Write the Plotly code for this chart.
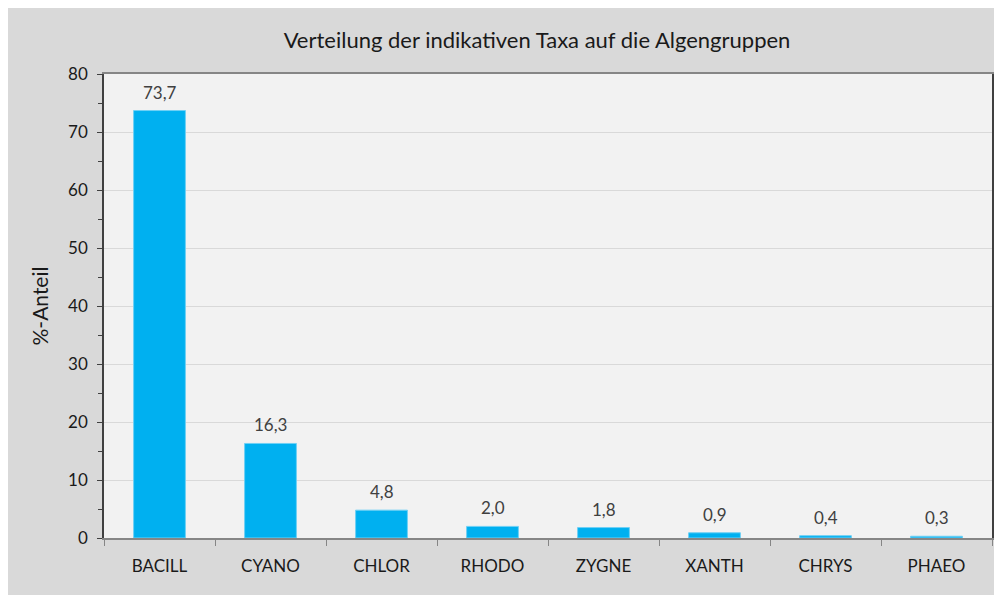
import plotly.graph_objects as go

categories = ["BACILL", "CYANO", "CHLOR", "RHODO", "ZYGNE", "XANTH", "CHRYS", "PHAEO"]
values = [73.7, 16.3, 4.8, 2.0, 1.8, 0.9, 0.4, 0.3]
labels = [f"{v:.1f}".replace(".", ",") for v in values]

FONT = "Lato"

fig = go.Figure(go.Bar(
    x=categories, y=values,
    marker=dict(color="#00B0F0", line=dict(color="#6FD0F5", width=1)),
    hoverinfo="x+y",
))

for c, v, t in zip(categories, values, labels):
    fig.add_annotation(x=c, y=v, text=t, showarrow=False, yanchor="bottom", yshift=6,
                       font=dict(family=FONT, size=17, color="#404040"))

fig.update_layout(
    width=994, height=587,
    paper_bgcolor="#D9D9D9",
    plot_bgcolor="#F2F2F2",
    margin=dict(l=96, r=8, t=66, b=57),
    bargap=0.533,
    showlegend=False,
    font=dict(family=FONT, size=17, color="#1a1a1a"),
    title=dict(text="Verteilung der indikativen Taxa auf die Algengruppen",
               x=(537 - 8) / 994, xref="container", xanchor="center",
               y=1 - (40 - 8) / 587, yref="container", yanchor="middle",
               font=dict(family=FONT, size=22, color="#1a1a1a")),
)

fig.update_xaxes(
    showline=True, linecolor="#868686", linewidth=1.5, mirror=True,
    ticks="outside", tickson="boundaries", ticklen=6, tickcolor="#868686",
    tickfont=dict(family=FONT, size=17, color="#1a1a1a"),
    ticklabelstandoff=12,
    showgrid=False,
)
fig.update_yaxes(
    range=[0, 80], dtick=10, showline=True, linecolor="#404040", linewidth=1.5, mirror=True,
    ticks="outside", ticklen=5, tickcolor="#404040",
    minor=dict(dtick=5, ticks="outside", ticklen=4, tickcolor="#404040", showgrid=False),
    showgrid=True, gridcolor="#D9D9D9", gridwidth=1,
    zeroline=False,
    tickfont=dict(family=FONT, size=17, color="#1a1a1a"),
    ticklabelstandoff=6,
    title=dict(text="%-Anteil", font=dict(family=FONT, size=21, color="#1a1a1a"), standoff=14),
)

fig.write_html("out.html")
